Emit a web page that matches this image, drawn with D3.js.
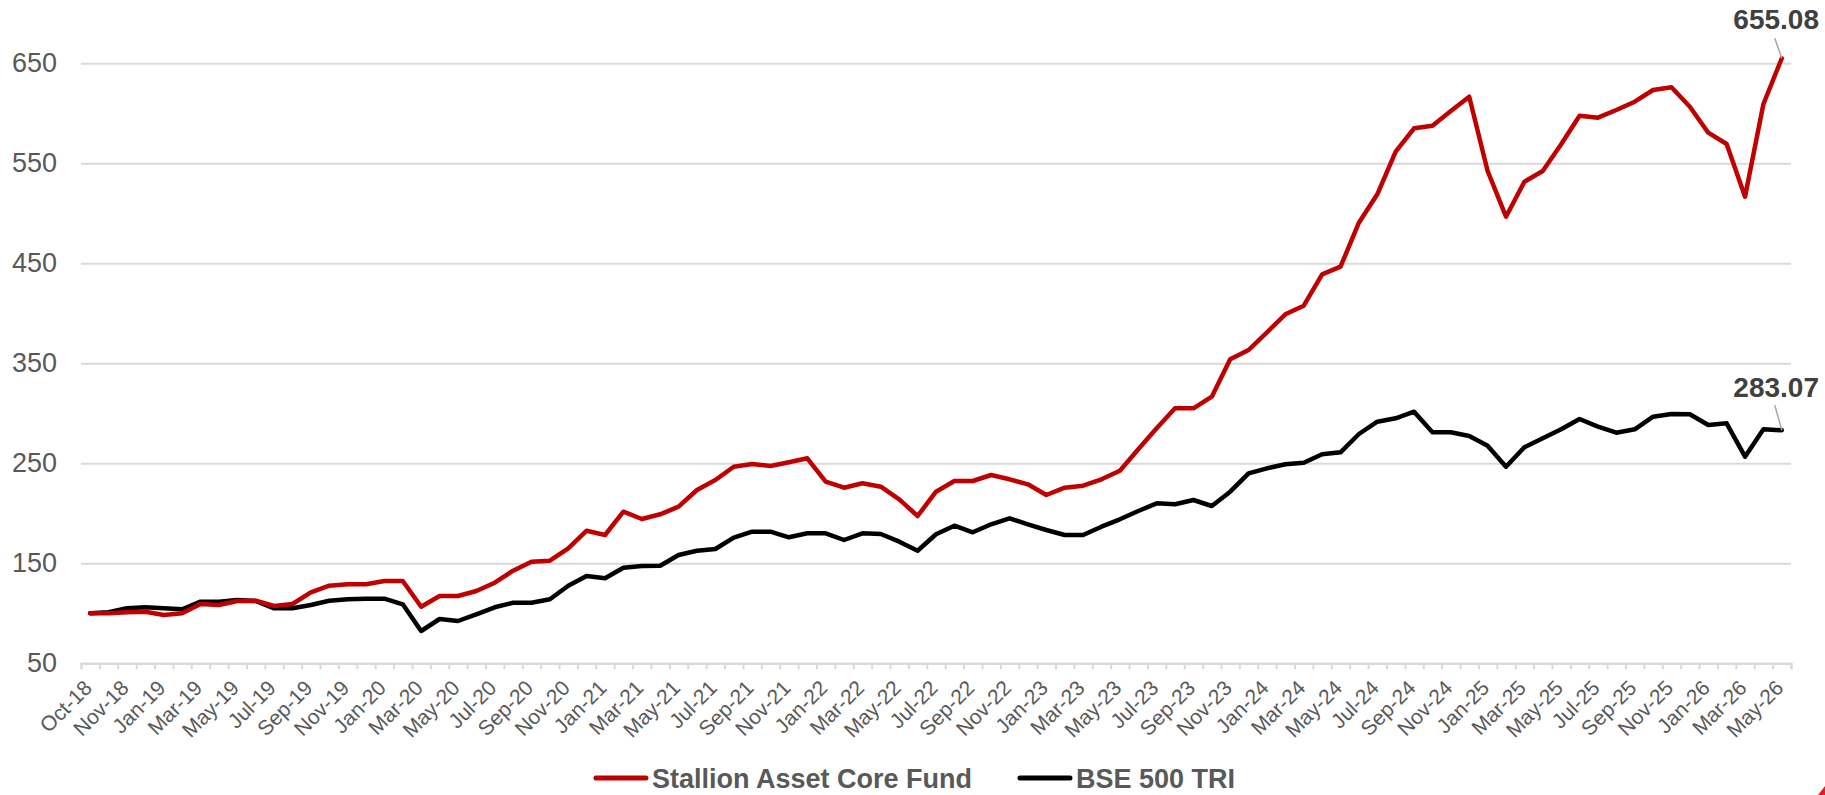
<!DOCTYPE html>
<html>
<head>
<meta charset="utf-8">
<script src="https://cdn.jsdelivr.net/npm/d3@7"></script>
<style>
  body { margin: 0; background: #fff; }
  svg { display: block; font-family: "Liberation Sans", Arial, sans-serif; }
</style>
</head>
<body>
<svg id="chart" width="1825" height="795"></svg>
<script>
// x labels, every second point (first point is the Oct-18 start)
const tickLabels = [
  "Oct-18", "Nov-18",
  "Jan-19", "Mar-19", "May-19", "Jul-19", "Sep-19", "Nov-19",
  "Jan-20", "Mar-20", "May-20", "Jul-20", "Sep-20", "Nov-20",
  "Jan-21", "Mar-21", "May-21", "Jul-21", "Sep-21", "Nov-21",
  "Jan-22", "Mar-22", "May-22", "Jul-22", "Sep-22", "Nov-22",
  "Jan-23", "Mar-23", "May-23", "Jul-23", "Sep-23", "Nov-23",
  "Jan-24", "Mar-24", "May-24", "Jul-24", "Sep-24", "Nov-24",
  "Jan-25", "Mar-25", "May-25", "Jul-25", "Sep-25", "Nov-25",
  "Jan-26", "Mar-26", "May-26"
];

const fund = [
  100, 100, 101, 101.6, 98.3, 100, 109.3, 108.3, 112.3, 112.6,
  107.3, 109.3, 121, 127.6, 129, 129, 132.3, 132.3, 106.6, 117.3,
  117.3, 122.3, 130.6, 142.6, 151.6, 152.6, 165, 182.6, 178.3, 201.6,
  194.3, 199, 206.6, 223.3, 233.3, 246.6, 249.3, 247.3, 251, 255,
  231.6, 225.6, 230, 226.6, 214, 197.3, 221.6, 232.3, 232.3, 238.3,
  234, 229, 218.3, 225.6, 227.6, 234, 242.6, 264, 285, 305,
  305, 316.6, 354, 363.3, 381, 399, 407.6, 439, 446.6, 490.6,
  519, 561.6, 585, 587.6, 602.3, 616.6, 542.3, 496.6, 531.6, 542.3,
  569, 597.6, 595.6, 603.3, 611.6, 623.3, 626, 606.6, 580.6, 569.3,
  516.6, 609.3, 655.08
];

const bench = [
  100, 101, 105, 106, 105, 104, 111.6, 111.6, 113.3, 112.3,
  105, 105, 108.3, 112.6, 114, 114.6, 114.6, 109, 82.3, 94.3,
  92.3, 99, 106, 110.6, 110.6, 114, 127.6, 137.3, 135, 145.6,
  147.3, 147.6, 158.3, 162.6, 164.3, 175.6, 181.6, 181.6, 176, 180,
  180, 173.3, 180, 179.3, 171.6, 162.6, 179, 187.6, 181, 189,
  195, 189, 183.3, 178.3, 178.3, 186.6, 194, 202.3, 210, 209,
  213.3, 207.3, 221.6, 240, 245, 249, 250.6, 259, 261, 279.3,
  291.6, 295, 301.6, 281, 281, 277.3, 267.6, 246.6, 266, 275,
  284, 294.3, 286.6, 280.6, 284, 296.6, 299.3, 299, 288.3, 290,
  256.6, 284, 283.07
];

const yTicks = [50, 150, 250, 350, 450, 550, 650];
const seriesNames = ["Stallion Asset Core Fund", "BSE 500 TRI"];
const seriesColors = ["#c00000", "#000000"];

const width = 1825;
const margin = { left: 81, right: 34, top: 63.3, bottom: 131.7 };
const plotRight = width - margin.right;
const plotBottom = 795 - margin.bottom;

const svg = d3.select("#chart");

const x = d3.scaleBand()
  .domain(d3.range(fund.length))
  .range([margin.left, plotRight]);

// category edges for the tick marks
const xEdge = d3.scaleLinear()
  .domain([0, fund.length])
  .range([margin.left, plotRight]);

const y = d3.scaleLinear()
  .domain([50, 650])
  .range([plotBottom, margin.top]);

// gridlines + y labels
const yAxis = svg.append("g")
  .attr("transform", `translate(${margin.left},0)`)
  .call(d3.axisLeft(y).tickValues(yTicks).tickSize(-(plotRight - margin.left)).tickPadding(24));
yAxis.select(".domain").remove();
yAxis.selectAll("line").attr("stroke", "#d9d9d9").attr("stroke-width", 2);
yAxis.selectAll("text")
  .attr("fill", "#595959")
  .style("font-size", "27px");

// tick marks on x axis
const xTicks = svg.append("g")
  .attr("transform", `translate(0,${plotBottom})`)
  .call(d3.axisBottom(xEdge).tickValues(d3.range(fund.length + 1)).tickSize(6).tickFormat(""));
xTicks.selectAll("line, path").attr("stroke", "#d9d9d9").attr("stroke-width", 2);

// x labels
const xAxis = svg.append("g")
  .attr("transform", `translate(0,${plotBottom})`)
  .call(d3.axisBottom(x)
    .tickValues(d3.range(0, fund.length, 2))
    .tickFormat(i => tickLabels[i / 2])
    .tickSize(0));
xAxis.select(".domain").remove();
xAxis.selectAll("text")
  .attr("x", 0)
  .attr("y", 0)
  .attr("dy", null)
  .attr("text-anchor", "end")
  .attr("transform", "translate(3,26) rotate(-45)")
  .attr("fill", "#595959")
  .style("font-size", "21px");

// lines
const line = d3.line()
  .x((d, i) => x(i) + x.bandwidth() / 2)
  .y(d => y(d));

[bench, fund].forEach((s, k) => {
  svg.append("path")
    .datum(s)
    .attr("fill", "none")
    .attr("stroke", k === 0 ? seriesColors[1] : seriesColors[0])
    .attr("stroke-width", 4.5)
    .attr("stroke-linejoin", "round")
    .attr("stroke-linecap", "round")
    .attr("d", line);
});

// end labels
const last = fund.length - 1;
[[fund, 29, 20], [bench, 33, 25]].forEach(([s, up, lead]) => {
  const px = x(last) + x.bandwidth() / 2;
  const py = y(s[last]);
  svg.append("line")
    .attr("x1", px - 7).attr("y1", py - lead)
    .attr("x2", px).attr("y2", py)
    .attr("stroke", "#a6a6a6").attr("stroke-width", 1.5);
  svg.append("text")
    .attr("x", 1819)
    .attr("y", py - up)
    .attr("text-anchor", "end")
    .attr("fill", "#404040")
    .style("font-size", "28px")
    .style("font-weight", "bold")
    .text(s[last].toFixed(2));
});

// legend
const legend = svg.append("g");
let lx = 0;
seriesNames.forEach((name, i) => {
  const g = legend.append("g").attr("transform", `translate(${lx},0)`);
  g.append("line")
    .attr("x1", 2).attr("x2", 52)
    .attr("y1", -10).attr("y2", -10)
    .attr("stroke", seriesColors[i])
    .attr("stroke-width", 5)
    .attr("stroke-linecap", "round");
  const t = g.append("text")
    .attr("x", 58)
    .attr("y", 0)
    .attr("fill", "#595959")
    .style("font-size", "27px")
    .style("font-weight", "bold")
    .text(name);
  lx += 58 + t.node().getComputedTextLength() + 46;
});
lx -= 46;
legend.attr("transform", `translate(${(width - lx) / 2 + 2},788)`);

// small red corner mark
svg.append("path")
  .attr("d", "M1818,795 L1825,786 L1825,795 Z")
  .attr("fill", "#e31e24");
</script>
</body>
</html>
